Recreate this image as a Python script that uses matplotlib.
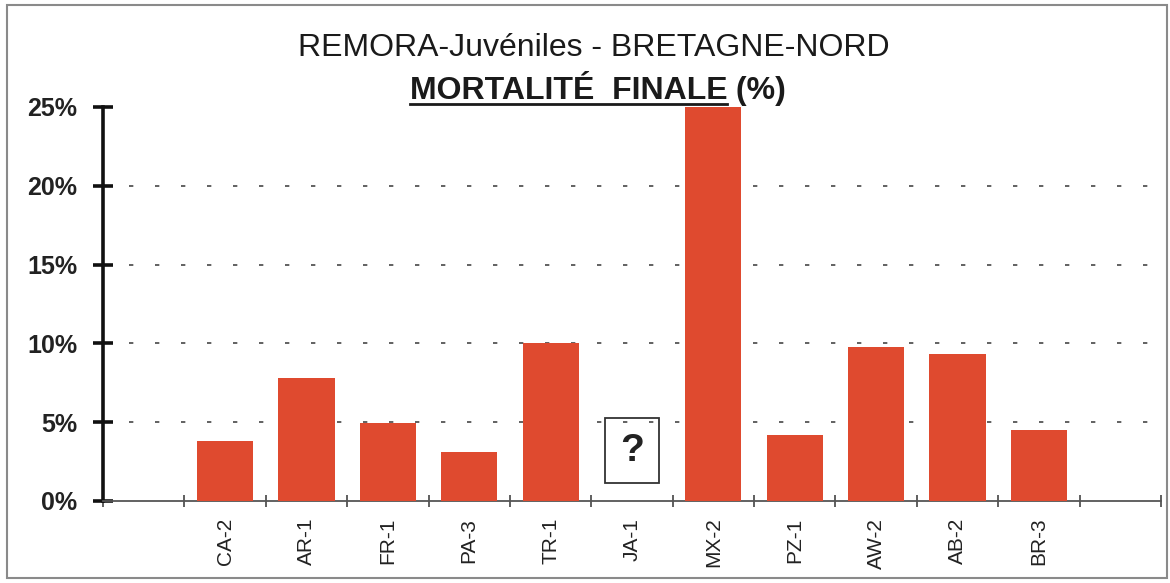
import numpy as np
import matplotlib
matplotlib.use("Agg")
import matplotlib.pyplot as plt
from matplotlib.patches import Rectangle
from matplotlib.lines import Line2D

plt.rcParams['font.family'] = ['Liberation Sans', 'DejaVu Sans']

# data (JA-1 has no value, shown as "?")
stations = ["CA-2", "AR-1", "FR-1", "PA-3", "TR-1", "JA-1",
            "MX-2", "PZ-1", "AW-2", "AB-2", "BR-3"]
mortality = [3.8, 7.8, 4.95, 3.1, 10.0, np.nan,
             25.0, 4.2, 9.75, 9.3, 4.5]
missing = ["JA-1"]
y_ticks = [0, 5, 10, 15, 20, 25]
y_labels = ["0%", "5%", "10%", "15%", "20%", "25%"]

title_1 = "REMORA-Juvéniles - BRETAGNE-NORD"
title_2a = "MORTALITÉ  FINALE"
title_2b = " (%)"

bar_color = "#DF4A2F"
W, H = 1170, 583

fig = plt.figure(figsize=(W / 100, H / 100), dpi=100)
fig.patch.set_facecolor("white")

# scanned page frame
fig.patches.append(Rectangle((7 / W, 5 / H), 1160 / W, 573 / H,
                             transform=fig.transFigure, fill=False,
                             edgecolor="#8a8a8a", linewidth=1.5))

ax = fig.add_axes([103 / W, (H - 501) / H, (1161 - 103) / W, (501 - 107) / H])

# one empty slot on the left, one on the right
xpos = np.arange(1, len(stations) + 1)
ax.bar(xpos, mortality, width=0.69, color=bar_color, zorder=3)
ax.set_xlim(-0.5, len(stations) + 1.5)
ax.set_ylim(0, 25)

# "?" box for the station without a value
for name in missing:
    i = stations.index(name)
    ax.add_patch(Rectangle((xpos[i] - 0.33, 1.15), 0.66, 4.1, fill=False,
                           edgecolor="#333333", linewidth=1.3, zorder=4))
    ax.text(xpos[i], 3.2, "?", ha="center", va="center", fontsize=28,
            fontweight="bold", color="#222222", zorder=5)

# axes styling
for s in ["top", "right"]:
    ax.spines[s].set_visible(False)
ax.spines["left"].set_linewidth(2.6)
ax.spines["left"].set_color("#111111")
ax.spines["bottom"].set_linewidth(1.3)
ax.spines["bottom"].set_color("#555555")

ax.set_yticks(y_ticks)
ax.set_yticklabels(y_labels, fontsize=18, fontweight="bold", color="#222222")
ax.tick_params(axis="y", direction="inout", length=14, width=2.6,
               color="#111111", pad=11.5)

ax.set_xticks(xpos)
ax.set_xticklabels(stations, rotation=90, fontsize=15, color="#222222")
ax.set_xticks(np.arange(-0.5, len(stations) + 2, 1.0), minor=True)
ax.tick_params(axis="x", which="major", length=0, pad=12)
ax.tick_params(axis="x", which="minor", direction="inout", length=9,
               width=1.2, color="#444444")

ax.grid(axis="y", color="#555555", linestyle=(0, (2.4, 12)), linewidth=1.3,
        zorder=1)
grid = ax.get_ygridlines()
grid[0].set_visible(False)
grid[-1].set_visible(False)

# titles
fig.text(594 / W, 1 - 56 / H, title_1, ha="center", va="baseline",
         fontsize=23, color="#1a1a1a")

fig.canvas.draw()
r = fig.canvas.get_renderer()
ta = fig.text(0, 1 - 99 / H, title_2a, ha="left", va="baseline",
              fontsize=23, fontweight="bold", color="#1a1a1a")
tb = fig.text(0, 1 - 99 / H, title_2b, ha="left", va="baseline",
              fontsize=23, fontweight="bold", color="#1a1a1a")
wa = ta.get_window_extent(r).width
wb = tb.get_window_extent(r).width
x0 = 598 - (wa + wb) / 2
ta.set_x(x0 / W)
tb.set_x((x0 + wa) / W)
fig.lines.append(Line2D([x0 / W, (x0 + wa) / W], [1 - 104 / H, 1 - 104 / H],
                        transform=fig.transFigure, color="#1a1a1a",
                        linewidth=2))

fig.savefig("out.png", dpi=100)
